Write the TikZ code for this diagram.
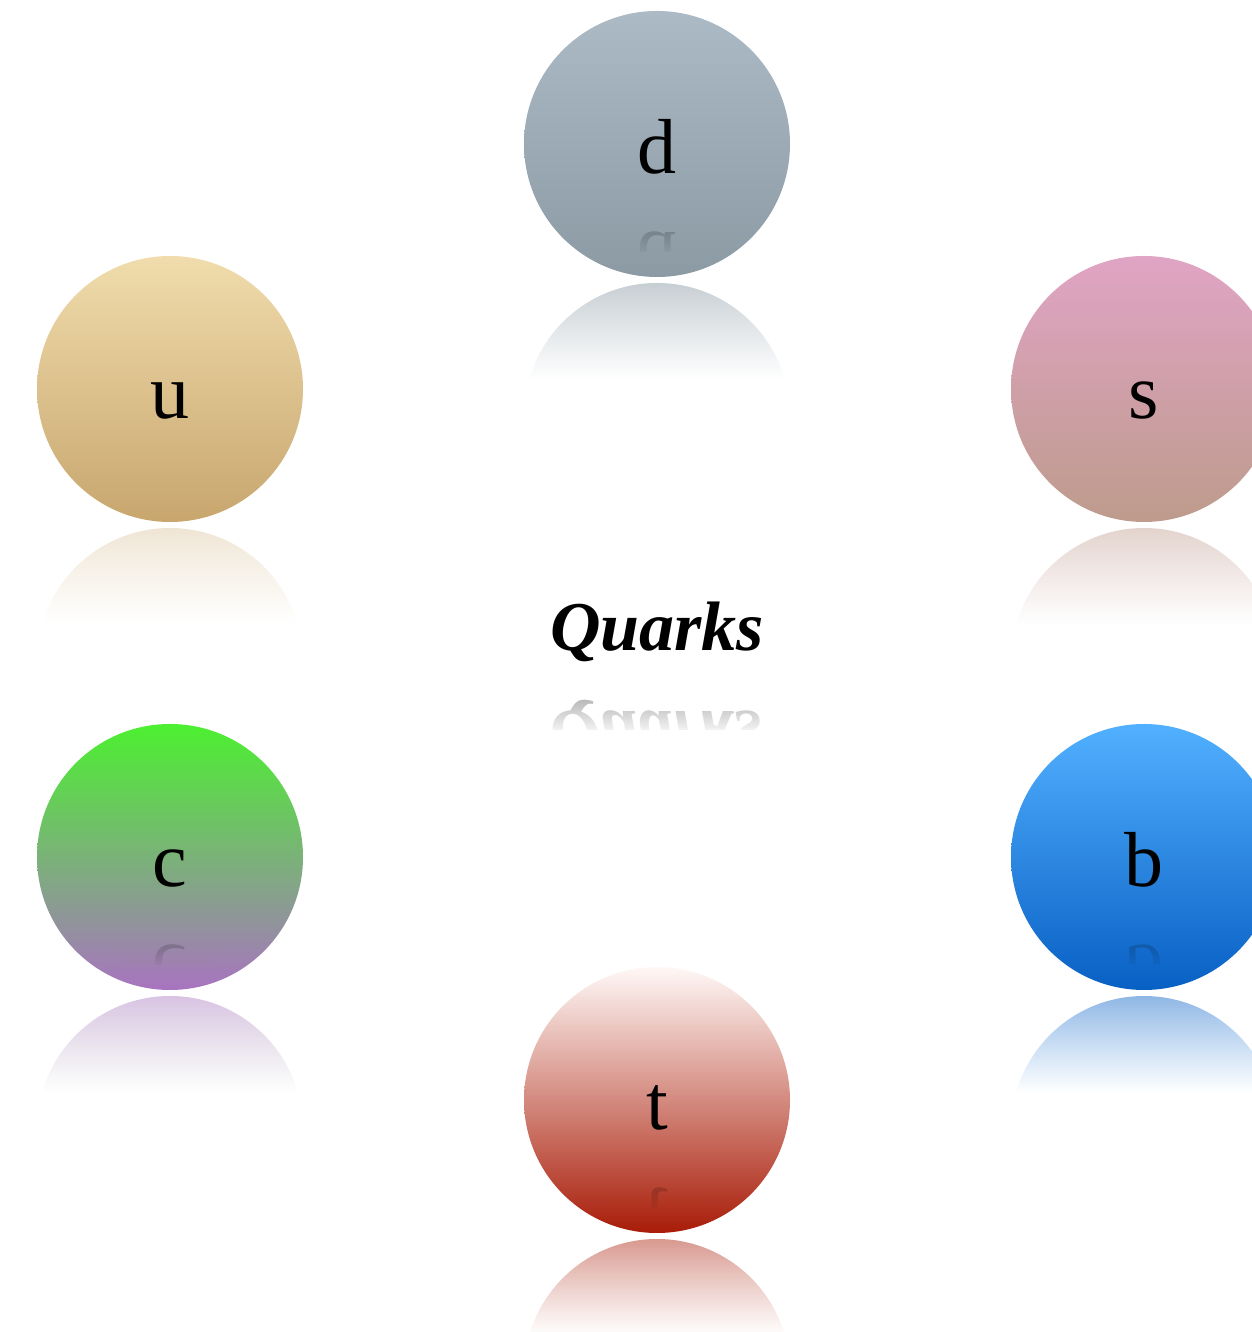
\documentclass[tikz,border=0pt]{standalone}
\usepackage{fontspec}
\setmainfont{Liberation Serif}
\usetikzlibrary{fadings,calc}
\tikzfading[name=fadedown, top color=transparent!0, bottom color=transparent!100]
\tikzfading[name=fadeup, top color=transparent!100, bottom color=transparent!0]
\definecolor{dTop}{HTML}{ACBAC6}
\definecolor{dBot}{HTML}{8C9AA4}
\definecolor{uTop}{HTML}{F0DCAC}
\definecolor{uBot}{HTML}{C8A66E}
\definecolor{sTop}{HTML}{E0A4C4}
\definecolor{sBot}{HTML}{BE9B8C}
\definecolor{cTop}{HTML}{4CF030}
\definecolor{cMid}{HTML}{7DB473}
\definecolor{cBot}{HTML}{A874C0}
\definecolor{bTop}{HTML}{52B0FF}
\definecolor{bBot}{HTML}{0860C4}
\definecolor{tTop}{HTML}{FFF8F6}
\definecolor{tMid}{HTML}{D88878}
\definecolor{tBot}{HTML}{A81C08}
\newcommand\ballrefl[4]{%
  \begin{scope}
    \clip ($(#1.center)+(0,-272)$) circle (133pt);
    \shade[top color=#2, bottom color=#3, path fading=fadedown, opacity=#4]
      ($(#1.center)+(-134,-136)$) rectangle ($(#1.center)+(134,-236)$);
  \end{scope}}
\newcommand\letrefl[4]{%
  \begin{scope}
    \clip ($(#1.center)+(-45,-88)$) rectangle ($(#1.center)+(45,-108)$);
    \begin{scope}[shift={($(#1.center)+(0,-89)$)}, yscale=-1, transform shape]
      \node[ballfont, anchor=base, text opacity=0.16, inner sep=0pt] (#1r) at (0,0) {#2};
    \end{scope}
    \shade[top color=#3, bottom color=#4, path fading=fadeup]
      ($(#1.center)+(-45,-90)$) rectangle ($(#1.center)+(45,-112)$);
  \end{scope}}
\begin{document}
\begin{tikzpicture}[x=1pt, y=1pt,
  ballfont/.style={font=\fontsize{78}{78}\selectfont},
  ball/.style={circle, minimum size=266pt, inner sep=0pt, ballfont,
    text height=60pt, text depth=0pt},
  titlefont/.style={font=\fontsize{70}{70}\selectfont\bfseries\itshape}]
\useasboundingbox (0,0) rectangle (1251,1332);

% balls
\node[ball, top color=dTop, bottom color=dBot] (d) at (657,1188) {d};
\node[ball, top color=uTop, bottom color=uBot] (u) at (170,943) {u};
\node[ball, top color=sTop, bottom color=sBot] (s) at (1144,943) {s};
\node[ball, top color=cTop, middle color=cMid, bottom color=cBot] (c) at (170,475) {c};
\node[ball, top color=bTop, bottom color=bBot] (b) at (1144,475) {b};
\node[ball, top color=tTop, middle color=tMid, bottom color=tBot] (t) at (657,232) {t};

% reflections of the balls
\ballrefl{d}{dBot}{dBot!70!dTop}{0.5}
\ballrefl{u}{uBot}{uBot!70!uTop}{0.3}
\ballrefl{s}{sBot}{sBot!70!sTop}{0.45}
\ballrefl{c}{cBot}{cBot!60!cMid}{0.45}
\ballrefl{b}{bBot}{bBot!70!bTop}{0.47}
\ballrefl{t}{tBot}{tBot!60!tMid}{0.47}

% reflections of the letters inside the balls
\letrefl{d}{d}{dBot!83!dTop}{dBot!91!dTop}
\letrefl{c}{c}{cBot!67!cMid}{cBot!83!cMid}
\letrefl{b}{b}{bBot!83!bTop}{bBot!91!bTop}
\letrefl{t}{t}{tBot!67!tMid}{tBot!83!tMid}

% title and its reflection
\node[titlefont, anchor=base, inner sep=0pt] (q) at (657,681) {Quarks};
\begin{scope}
  \clip (530,634) rectangle (790,602);
  \begin{scope}[shift={(657,620)}, yscale=-1, transform shape]
    \node[titlefont, anchor=base, inner sep=0pt, text opacity=0.3] (qr) at (0,0) {Quarks};
  \end{scope}
  \shade[top color=white, bottom color=white, path fading=fadeup] (530,636) rectangle (790,596);
\end{scope}
\end{tikzpicture}
\end{document}
